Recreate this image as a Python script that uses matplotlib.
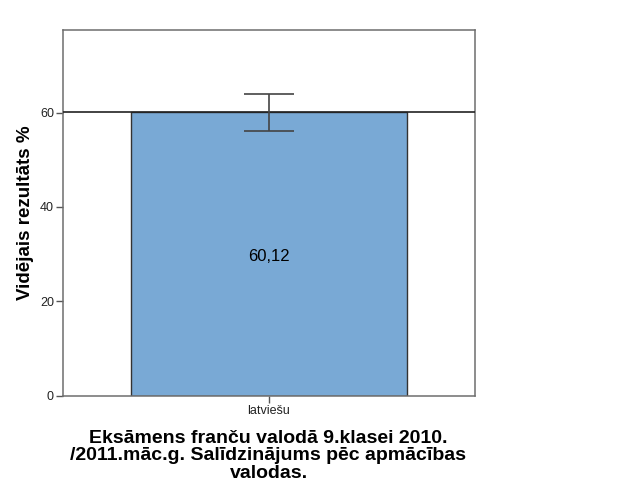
import matplotlib
matplotlib.use("Agg")
import matplotlib.pyplot as plt

categories = ["latviešu"]
means = [60.12]
ci_low = [56.1]
ci_high = [63.9]
value_labels = ["60,12"]
yticks = [0, 20, 40, 60]

plt.rcParams['font.family'] = ['Liberation Sans', 'DejaVu Sans']

fig = plt.figure(figsize=(6.25, 5), dpi=100)
ax = fig.add_axes([0.1008, 0.2086, 0.6592, 0.7314])

x = list(range(len(categories)))
ax.bar(x, means, width=0.672, color='#79a9d5', edgecolor='#333333', linewidth=1.0, zorder=2)
yerr = [[m - l for m, l in zip(means, ci_low)], [h - m for m, h in zip(means, ci_high)]]
ax.errorbar(x, means, yerr=yerr, fmt='none', ecolor='#444444', elinewidth=1.2,
            capsize=18, capthick=1.2, zorder=4)
ax.axhline(means[0], color='#222222', linewidth=1.2, zorder=3)
for xi, m, lab in zip(x, means, value_labels):
    ax.annotate(lab, (xi, m / 2), xytext=(0, -3), textcoords='offset pixels',
                ha='center', va='center', fontsize=12, color='black', zorder=5)

ax.set_xlim(-0.5, 0.5)
ax.set_ylim(0, 77.5)
ax.set_xticks(x)
ax.set_xticklabels(categories, fontsize=9, color='#222222')
ax.set_yticks(yticks)
ax.set_yticklabels([str(t) for t in yticks], fontsize=9, color='#222222')
ax.tick_params(direction='out', length=5, width=1, color='#555555', pad=1.5)
for s in ax.spines.values():
    s.set_color('#6e6e6e')
    s.set_linewidth(1.1)

ax.set_ylabel('Vidējais rezultāts %', fontsize=13.5, fontweight='bold', labelpad=4)
fig.text(0.4296, 0.088, 'Eksāmens franču valodā 9.klasei 2010.\n/2011.māc.g. Salīdzinājums pēc apmācības\nvalodas.',
         ha='center', va='center', fontsize=14, fontweight='bold', linespacing=1.05)

fig.savefig('out.png', dpi=100)
